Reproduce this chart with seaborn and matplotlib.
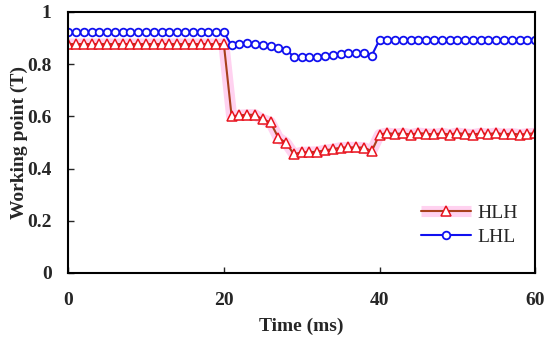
import numpy as np
import pandas as pd
import matplotlib
matplotlib.use('Agg')
import matplotlib.pyplot as plt
import seaborn as sns

# time axis (ms), one sample per ms
time_ms = np.arange(0, 61)

# HLH working point (T)
hlh = [0.877, 0.877, 0.877, 0.877, 0.877, 0.877, 0.877, 0.877, 0.877, 0.877,
       0.877, 0.877, 0.877, 0.877, 0.877, 0.877, 0.877, 0.877, 0.877, 0.877,
       0.877,
       0.600, 0.604, 0.606, 0.606, 0.588, 0.577, 0.518, 0.498, 0.455, 0.462,
       0.463, 0.464, 0.470, 0.474, 0.480, 0.481, 0.481, 0.480, 0.467,
       0.530, 0.536, 0.532, 0.535, 0.530, 0.536, 0.533, 0.531, 0.535, 0.530,
       0.536, 0.532, 0.530, 0.535, 0.532, 0.536, 0.531, 0.534, 0.530, 0.533,
       0.535]

# LHL working point (T)
lhl = [0.922, 0.922, 0.922, 0.922, 0.922, 0.922, 0.922, 0.922, 0.922, 0.922,
       0.922, 0.922, 0.922, 0.922, 0.922, 0.922, 0.922, 0.922, 0.922, 0.922,
       0.922,
       0.872, 0.878, 0.880, 0.879, 0.873, 0.870, 0.863, 0.856, 0.828, 0.826,
       0.826, 0.829, 0.832, 0.837, 0.838, 0.842, 0.843, 0.842, 0.833,
       0.893, 0.893, 0.893, 0.893, 0.893, 0.893, 0.893, 0.893, 0.893, 0.893,
       0.893, 0.893, 0.893, 0.893, 0.893, 0.893, 0.893, 0.893, 0.893, 0.893,
       0.893]

xticks = [0, 20, 40, 60]
yticks = [0, 0.2, 0.4, 0.6, 0.8, 1.0]
ytick_labels = ['0', '0.2', '0.4', '0.6', '0.8', '1']

df = pd.DataFrame({'Time': time_ms, 'HLH': hlh, 'LHL': lhl})

sns.set_style('ticks')
plt.rcParams['font.family'] = ['Liberation Serif', 'DejaVu Serif']
plt.rcParams['font.size'] = 14

fig = plt.figure(figsize=(5.5, 3.42), dpi=100)
ax = fig.add_axes([0.124, 0.202, 0.849, 0.763])

# pink highlight band behind HLH
sns.lineplot(ax=ax, data=df, x='Time', y='HLH', color='#ffd2f0',
             linewidth=8, solid_capstyle='butt', legend=False)
sns.lineplot(ax=ax, data=df, x='Time', y='HLH',
             color='#a8401c', linewidth=1.5, marker='^', markersize=6.5,
             markerfacecolor='white', markeredgecolor='#e8141e', markeredgewidth=1.1,
             legend=False)
sns.lineplot(ax=ax, data=df, x='Time', y='LHL',
             color='#1010f0', linewidth=1.5, marker='o', markersize=5.5,
             markerfacecolor='white', markeredgecolor='#1010f0', markeredgewidth=1.3,
             legend=False)
glow, hlh_line, lhl_line = ax.get_lines()[:3]

ax.set_xlim(0, 60)
ax.set_ylim(0, 1)
ax.set_xticks(xticks)
ax.set_yticks(yticks)
ax.set_yticklabels(ytick_labels)
ax.tick_params(direction='in', length=4, width=1)
ax.tick_params(axis='x', pad=14)
ax.tick_params(axis='y', pad=12)
for lab in ax.get_xticklabels() + ax.get_yticklabels():
    lab.set_fontweight('bold')
for s in ax.spines.values():
    s.set_visible(True)
    s.set_linewidth(1.5)
    s.set_color('black')

ax.set_xlabel('Time (ms)', fontweight='bold', labelpad=6)
ax.set_ylabel('Working point (T)', fontweight='bold', labelpad=-1)

ax.legend(handles=[(glow, hlh_line), lhl_line], labels=['HLH', 'LHL'],
          loc='lower right', bbox_to_anchor=(1.0, 0.035), frameon=False,
          handlelength=2.6, handletextpad=0.3, labelspacing=0.35, fontsize=14)

fig.savefig('out.png', dpi=100)
